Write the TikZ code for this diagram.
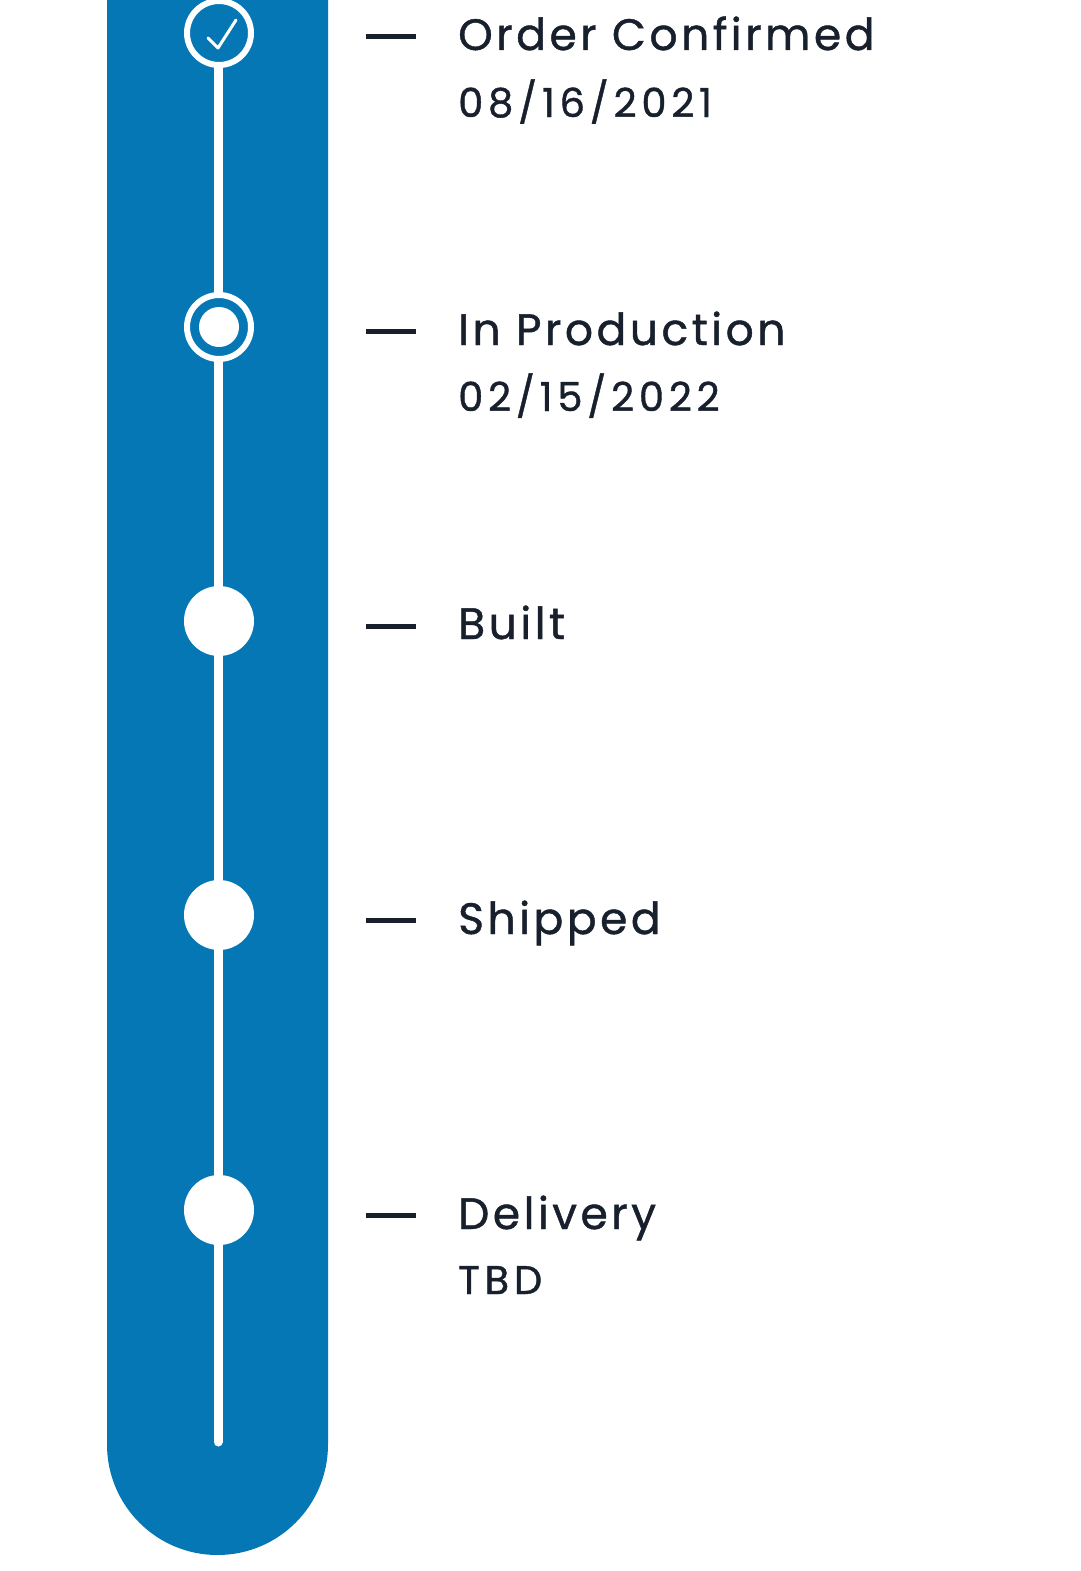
\documentclass[tikz,border=0pt]{standalone}
\usepackage{fontspec}
\setmainfont{Poppins}[LetterSpace=8,FakeBold=1]
\newfontfamily\datefont{Poppins}[LetterSpace=12,FakeBold=1]
\definecolor{barblue}{HTML}{0577B5}
\definecolor{ink}{HTML}{18202E}
\begin{document}
\begin{tikzpicture}[x=1pt,y=-1pt,
  title/.style={anchor=base west,inner sep=0pt,text=ink,font=\fontsize{44}{50}\selectfont},
  datetxt/.style={anchor=base west,inner sep=0pt,text=ink,font=\datefont\fontsize{40}{44}\selectfont},
  tick/.style={draw=ink,line width=5pt},
  dotfull/.style={circle,fill=white,minimum size=70pt,inner sep=0pt},
  ring/.style={circle,draw=white,line width=6pt,minimum size=64pt,inner sep=0pt}]
\useasboundingbox (0,0) rectangle (1080,1571);
\fill[white] (0,0) rectangle (1080,1571);
% blue bar
\fill[barblue] (107,-5) -- (107,1444.5) arc[start angle=180,end angle=0,radius=110.5] -- (328,-5) -- cycle;
% spine
\coordinate (top) at (218,-5);
\coordinate (bot) at (218,1442);
\draw[white,line width=9pt,line cap=round] (top) -- (bot);
% step markers
\node[ring,fill=barblue] (s1) at (219,33) {};
\draw[white,line width=3pt,line cap=round,line join=round] (208,38) -- (218,48) -- (236,20);
\node[ring,fill=barblue] (s2) at (219,327) {};
\node[circle,fill=white,minimum size=40pt,inner sep=0pt] (s2c) at (219,327) {};
\node[dotfull] (s3) at (219,621) {};
\node[dotfull] (s4) at (219,915) {};
\node[dotfull] (s5) at (219,1210) {};
% ticks
\foreach \y/\n in {37/1,331/2,626/3,920/4,1215/5}{
  \coordinate (ta\n) at (366,\y);
  \coordinate (tb\n) at (416,\y);
  \draw[tick] (ta\n) -- (tb\n);
}
% labels
\node[title] (t1) at (458,50) {Order Confirmed};
\node[datetxt] (d1) at (458,117) {08/16/2021};
\node[title] (t2) at (458,345) {In Production};
\node[datetxt] (d2) at (458,411) {02/15/2022};
\node[title] (t3) at (458,639) {Built};
\node[title] (t4) at (458,934) {Shipped};
\node[title] (t5) at (458,1229) {Delivery};
\node[datetxt] (d5) at (458,1294) {TBD};
\end{tikzpicture}
\end{document}
